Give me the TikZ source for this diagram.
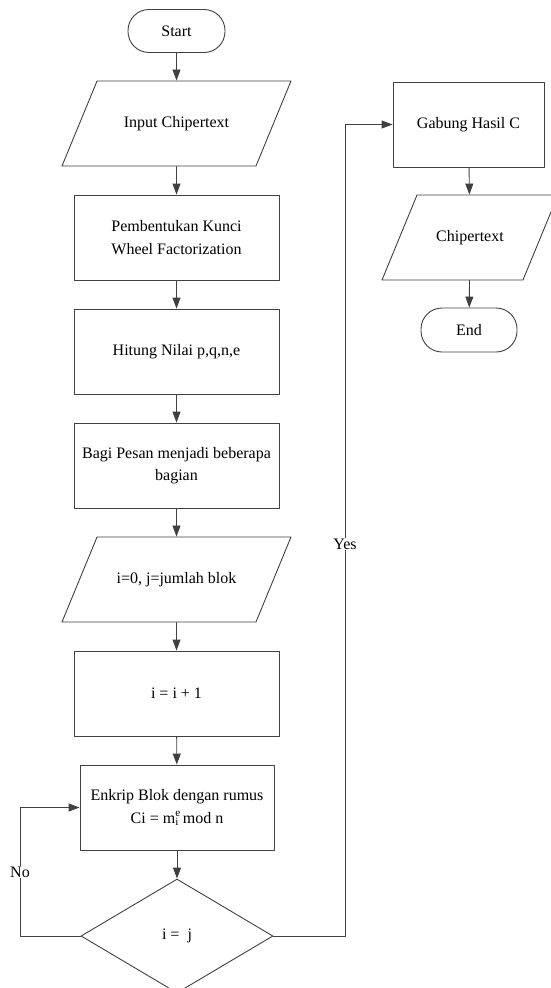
\documentclass[tikz,border=0pt]{standalone}
\usepackage{fontspec}
\setmainfont{Liberation Serif}
\usetikzlibrary{shapes.geometric,arrows.meta}

\begin{document}
\begin{tikzpicture}[x=1pt, y=-1pt, line cap=round, line join=round,
    every node/.style={font=\fontsize{16}{22.5}\selectfont, align=center},
    garis/.style={draw=black!75, line width=0.9pt},
    panah/.style={garis, -{Triangle[length=11pt,width=8pt]}},
    terminal/.style={garis, rectangle, rounded corners=21pt, minimum width=97pt, minimum height=43pt},
    proses/.style={garis, rectangle, minimum width=205pt, minimum height=85pt},
    io/.style={garis, trapezium, trapezium left angle=67.6, trapezium right angle=112.4,
        trapezium stretches body=true, text height=11pt, text depth=4pt,
        inner ysep=35pt, minimum width=229pt},
    keputusan/.style={garis, diamond, inner sep=0pt, minimum width=192pt, minimum height=114pt}]

    % Fix the size of the picture
    \useasboundingbox (0,0) rectangle (551,988);

    % Left column
    \node[terminal] (start) at (176.5,31) {Start};
    \node[io] (input) at (176.5,123.5) {Input Chipertext};
    \node[proses] (kunci) at (176.5,237.5) {Pembentukan Kunci\\Wheel Factorization};
    \node[proses] (hitung) at (176.5,351.5) {Hitung Nilai p,q,n,e};
    \node[proses] (bagi) at (176.5,465.5) {Bagi Pesan menjadi beberapa\\bagian};
    \node[io] (awal) at (176.5,579.5) {i=0, j=jumlah blok};
    \node[proses] (tambah) at (176.5,693.5) {i = i + 1};
    \node[proses, minimum width=194pt] (enkrip) at (177,807.5)
        {Enkrip Blok dengan rumus\\Ci = m\rlap{\textsuperscript{e}}\textsubscript{i} mod n};
    \node[keputusan] (cek) at (177,936) {i =\ \ j};

    % Right column
    \node[proses, minimum width=151pt] (gabung) at (468.5,124.5) {Gabung Hasil C};
    \node[io, minimum width=176pt] (hasil) at (470,237.5) {Chipertext};
    \node[terminal, minimum width=96pt, minimum height=44pt] (end) at (469,330) {End};

    % Straight arrows
    \draw[panah] (start) -- (input);
    \draw[panah] (input) -- (kunci);
    \draw[panah] (kunci) -- (hitung);
    \draw[panah] (hitung) -- (bagi);
    \draw[panah] (bagi) -- (awal);
    \draw[panah] (awal) -- (tambah);
    \draw[panah] (tambah) -- (enkrip);
    \draw[panah] (enkrip) -- (cek);
    \draw[panah] (gabung) -- (hasil);
    \draw[panah] (hasil) -- (end);

    % Loop back (No)
    \coordinate (kiri) at (20,936);
    \draw[panah] (cek.west) -- (kiri) |- (enkrip.west);
    \node[fill=white, inner sep=1pt] (no) at (20,872) {No};

    % Finished (Yes)
    \coordinate (kanan) at (345,936);
    \draw[panah] (cek.east) -- (kanan) |- (gabung.west);
    \node[fill=white, inner sep=1pt] (yes) at (345,544) {Yes};

\end{tikzpicture}
\end{document}
